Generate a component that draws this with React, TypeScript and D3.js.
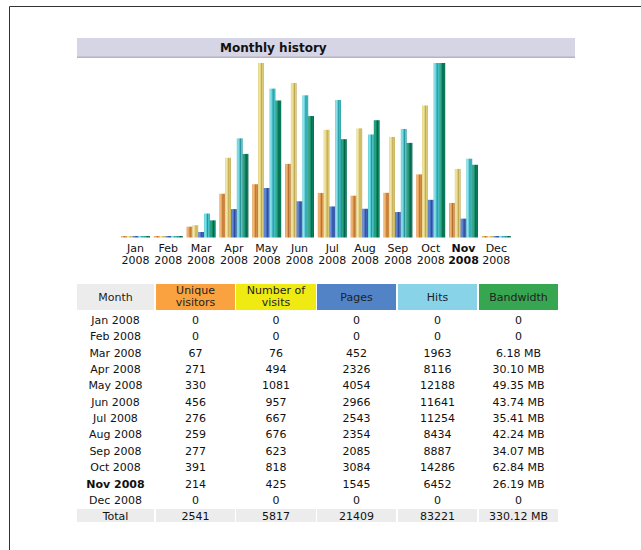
import React from "react";
import * as d3 from "d3";

const months = ["Jan", "Feb", "Mar", "Apr", "May", "Jun", "Jul", "Aug", "Sep", "Oct", "Nov", "Dec"];
const year = "2008";
const currentMonth = "Nov";
const visitors = [0, 0, 67, 271, 330, 456, 276, 259, 277, 391, 214, 0];
const visits = [0, 0, 76, 494, 1081, 957, 667, 676, 623, 818, 425, 0];
const pages = [0, 0, 452, 2326, 4054, 2966, 2543, 2354, 2085, 3084, 1545, 0];
const hits = [0, 0, 1963, 8116, 12188, 11641, 11254, 8434, 8887, 14286, 6452, 0];
const bandwidthMB = [0, 0, 6.18, 30.1, 49.35, 43.74, 35.41, 42.24, 34.07, 62.84, 26.19, 0];
const headers = ["Month", "Unique\nvisitors", "Number of\nvisits", "Pages", "Hits", "Bandwidth"];

const FONT = "'DejaVu Sans', Verdana, sans-serif";

const seriesKeys = ["u", "v", "p", "h", "k"];
const barColors: Record<string, [string, string, string]> = {
  u: ["#f2bb7c", "#e39c52", "#b26a2a"],
  v: ["#f2e9aa", "#e0d07e", "#bea652"],
  p: ["#6d93d9", "#4a70c0", "#2a4a98"],
  h: ["#96e4ea", "#52c8d2", "#21929a"],
  k: ["#35ac8a", "#118a68", "#005f46"],
};
const headerColors = ["#ececec", "#f9a23f", "#eeea12", "#5283c6", "#89d3e9", "#37a650"];

export default function App() {
  const baseY = 237.5;
  const maxH = 174.5;
  const x = d3.scaleBand<string>().domain(months).range([121, 121 + 12 * 32.8 - 3.8]).paddingInner(0.116).paddingOuter(0);
  const xs = d3.scaleBand<string>().domain(seriesKeys).range([0, x.bandwidth()]).padding(0);
  const yV = d3.scaleLinear().domain([0, d3.max([...visits, ...visitors]) as number]).range([0, maxH]);
  const yH = d3.scaleLinear().domain([0, d3.max([...hits, ...pages]) as number]).range([0, maxH]);
  const yK = d3.scaleLinear().domain([0, d3.max(bandwidthMB) as number]).range([0, maxH]);

  const seriesData: Record<string, { vals: number[]; y: d3.ScaleLinear<number, number> }> = {
    u: { vals: visitors, y: yV },
    v: { vals: visits, y: yV },
    p: { vals: pages, y: yH },
    h: { vals: hits, y: yH },
    k: { vals: bandwidthMB, y: yK },
  };

  const colX = [[77, 154], [156, 235], [236, 316], [317, 396], [398, 477], [479, 558]];
  const rowY = d3.scaleLinear().domain([0, 1]).range([324, 324 + 16.35]);
  const fmtBw = (v: number) => (v === 0 ? "0" : v.toFixed(2) + " MB");
  const totals = [
    "Total",
    String(d3.sum(visitors)),
    String(d3.sum(visits)),
    String(d3.sum(pages)),
    String(d3.sum(hits)),
    d3.sum(bandwidthMB).toFixed(2) + " MB",
  ];

  return (
    <svg width={641} height={550} style={{ position: "absolute", left: 0, top: 0, background: "#fff" }} fontFamily={FONT}>
      <defs>
        {seriesKeys.map((k) => (
          <linearGradient key={k} id={"g" + k} x1="0" x2="1" y1="0" y2="0">
            <stop offset="0%" stopColor={barColors[k][1]} />
            <stop offset="20%" stopColor={barColors[k][0]} />
            <stop offset="45%" stopColor={barColors[k][1]} />
            <stop offset="62%" stopColor={barColors[k][2]} />
            <stop offset="80%" stopColor={barColors[k][1]} />
            <stop offset="100%" stopColor={barColors[k][2]} />
          </linearGradient>
        ))}
      </defs>
      {/* frame */}
      <line x1={9.5} y1={6.5} x2={641} y2={6.5} stroke="#333" strokeWidth={1} />
      <line x1={9.5} y1={6.5} x2={9.5} y2={550} stroke="#333" strokeWidth={1} />
      {/* title bar */}
      <rect x={77} y={38} width={498} height={20} fill="#d5d5e5" />
      <rect x={77} y={56.5} width={498} height={1.5} fill="#b4b4c4" />
      <text x={220} y={51.5} fontSize={12} fontWeight="bold" fill="#111">Monthly history</text>
      {/* bars */}
      {months.map((m, i) => (
        <g key={m} transform={`translate(${x(m)},0)`}>
          {seriesKeys.map((k) => {
            const h = Math.max(1.5, seriesData[k].y(seriesData[k].vals[i]));
            return (
              <rect key={k} x={xs(k)} y={baseY - h} width={xs.bandwidth()} height={h} fill={`url(#g${k})`} />
            );
          })}
          <text x={x.bandwidth() / 2} y={252} fontSize={11} textAnchor="middle" fill="#111" fontWeight={m === currentMonth ? "bold" : "normal"}>{m}</text>
          <text x={x.bandwidth() / 2} y={264} fontSize={11} textAnchor="middle" fill="#111" fontWeight={m === currentMonth ? "bold" : "normal"}>{year}</text>
        </g>
      ))}
      {/* table header */}
      {headers.map((h, i) => {
        const lines = h.split("\n");
        const cx = (colX[i][0] + colX[i][1]) / 2;
        return (
          <g key={h}>
            <rect x={colX[i][0]} y={284} width={colX[i][1] - colX[i][0]} height={26} fill={headerColors[i]} />
            {lines.length === 1 ? (
              <text x={cx} y={301} fontSize={11} textAnchor="middle" fill="#222">{h}</text>
            ) : (
              lines.map((l, j) => (
                <text key={j} x={cx} y={294 + j * 12} fontSize={11} textAnchor="middle" fill="#222">{l}</text>
              ))
            )}
          </g>
        );
      })}
      {/* table rows */}
      {months.map((m, i) => {
        const cells = [`${m} ${year}`, String(visitors[i]), String(visits[i]), String(pages[i]), String(hits[i]), fmtBw(bandwidthMB[i])];
        return (
          <g key={m}>
            {cells.map((c, j) => (
              <text key={j} x={(colX[j][0] + colX[j][1]) / 2} y={rowY(i)} fontSize={11} textAnchor="middle" fill="#111"
                fontWeight={j === 0 && m === currentMonth ? "bold" : "normal"}>{c}</text>
            ))}
          </g>
        );
      })}
      {/* total row */}
      {totals.map((t, j) => (
        <g key={j}>
          <rect x={colX[j][0]} y={509} width={colX[j][1] - colX[j][0]} height={13} fill="#ececec" />
          <text x={(colX[j][0] + colX[j][1]) / 2} y={rowY(12) - 0.5} fontSize={11} textAnchor="middle" fill="#111">{t}</text>
        </g>
      ))}
    </svg>
  );
}
